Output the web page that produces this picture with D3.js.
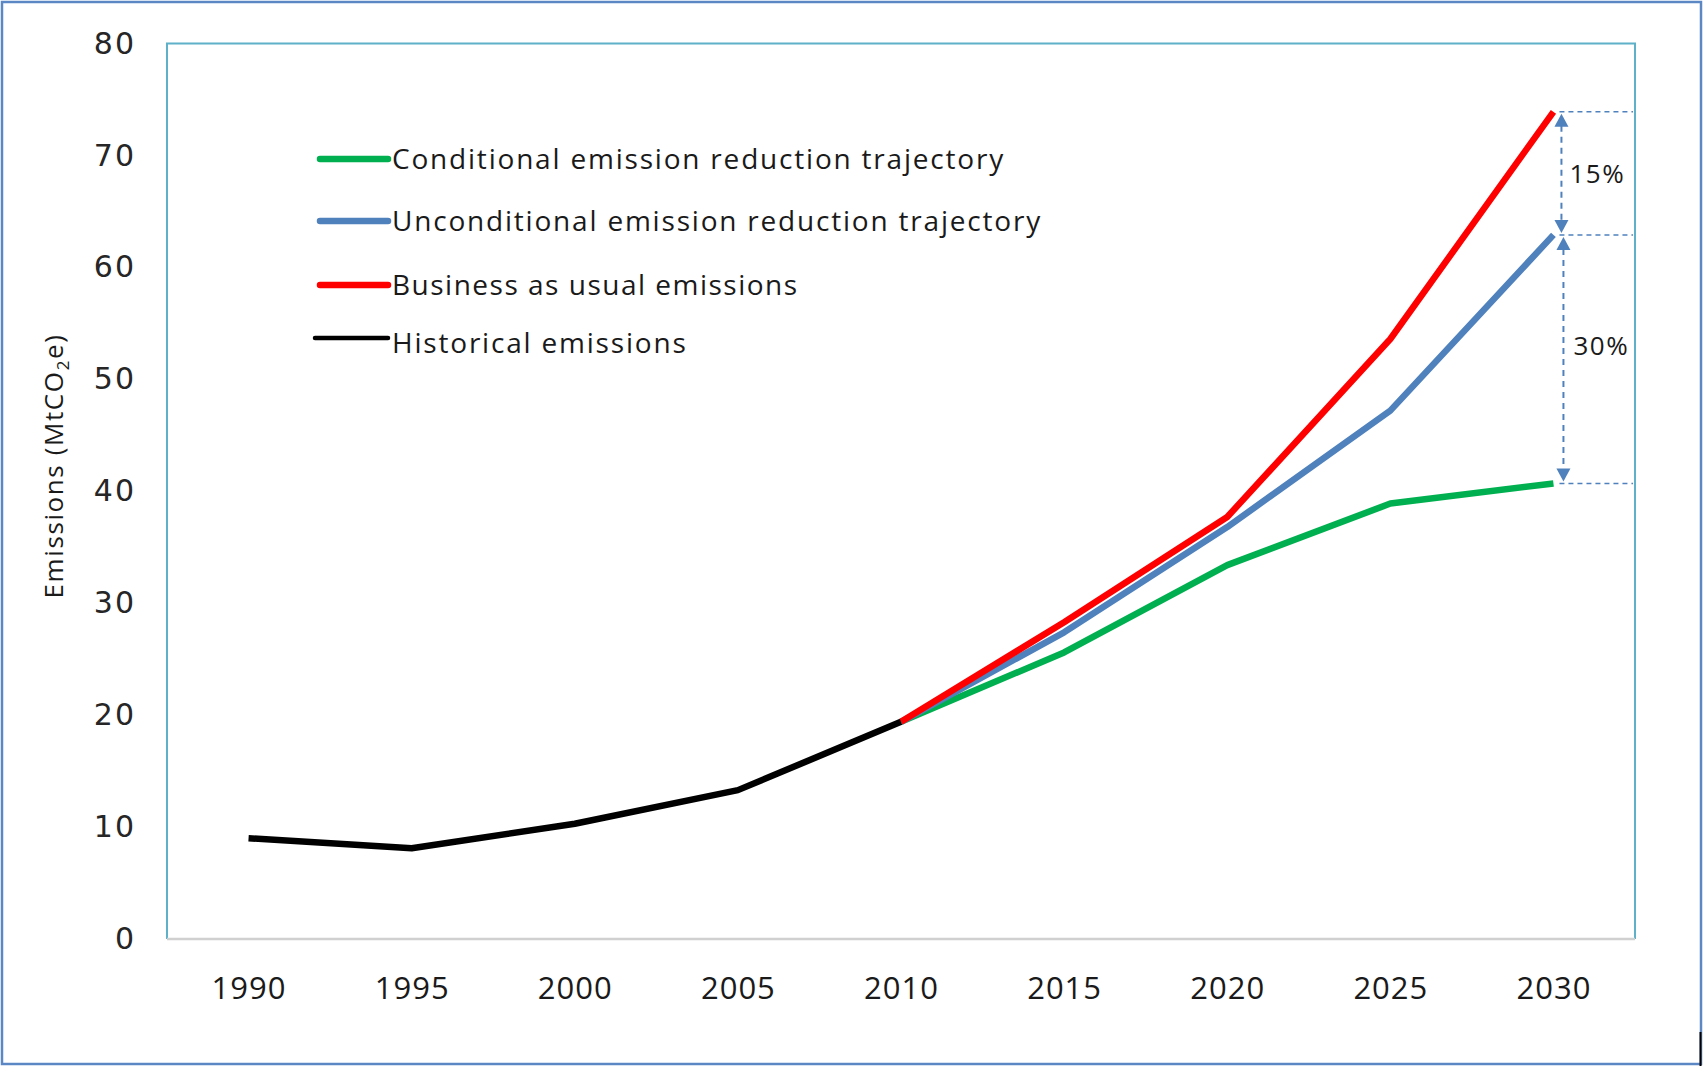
<!DOCTYPE html>
<html><head><meta charset="utf-8">
<script src="https://cdn.jsdelivr.net/npm/d3@7"></script>
<style>html,body{margin:0;padding:0;background:#fff;}svg{display:block;}</style>
</head><body>
<svg id="chart" width="1704" height="1067"></svg>
<script>
const years = ["1990","1995","2000","2005","2010","2015","2020","2025","2030"];
const historical = [9.0, 8.1, 10.3, 13.3, 19.4, null, null, null, null];
const bau = [null, null, null, null, 19.4, 28.3, 37.7, 53.6, 73.9];
const unconditional = [null, null, null, null, 19.4, 27.4, 36.8, 47.2, 62.9];
const conditional = [null, null, null, null, 19.4, 25.6, 33.4, 38.9, 40.7];
const yTicks = [0, 10, 20, 30, 40, 50, 60, 70, 80];
const seriesNames = ["Conditional emission reduction trajectory","Unconditional emission reduction trajectory","Business as usual emissions","Historical emissions"];
const seriesColors = ["#00b050","#4f81bd","#ff0000","#000000"];
const pctLabels = ["15%","30%"];

const svg = d3.select("#chart");
const L = 167, R = 1635, T = 43.5, B = 939;
const x = d3.scalePoint().domain(years).range([L, R]).padding(0.5);
const y = d3.scaleLinear().domain([0, 80]).range([B, T]);

// outer frame
svg.append("rect").attr("x",2).attr("y",2).attr("width",1699).attr("height",1062)
  .attr("fill","none").attr("stroke","#5b87c5").attr("stroke-width",2.5);
svg.append("line").attr("x1",1700.5).attr("x2",1700.5).attr("y1",1032).attr("y2",1066)
  .attr("stroke","#000").attr("stroke-width",2);

// plot area border
svg.append("path").attr("d",`M${L},${B}V${T}H${R}V${B}`).attr("fill","none")
  .attr("stroke","#5fb0c9").attr("stroke-width",2);
svg.append("line").attr("x1",L).attr("x2",R).attr("y1",B).attr("y2",B)
  .attr("stroke","#d0d0d0").attr("stroke-width",2.5);

// y axis
const yAxis = d3.axisLeft(y).tickValues(yTicks).tickSize(0).tickPadding(0);
const gy = svg.append("g").attr("transform",`translate(136,0)`).call(yAxis);
gy.select(".domain").remove();
gy.selectAll("text").attr("font-family","DejaVu Sans").attr("font-size",30)
  .attr("letter-spacing","2px").attr("fill","#262626");

// x axis
const xAxis = d3.axisBottom(x).tickSize(0).tickPadding(0);
const gx = svg.append("g").attr("transform",`translate(0,${B})`).call(xAxis);
gx.select(".domain").remove();
gx.selectAll("text").attr("font-family","Open Sans").attr("font-size",31).attr("letter-spacing","1px")
  .attr("fill","#1a1a1a").attr("dy",null).attr("y",60);

// y label
svg.append("text").attr("transform",`translate(63,466) rotate(-90)`).attr("text-anchor","middle")
  .attr("font-family","Open Sans").attr("font-size",26).attr("letter-spacing","1.6px").attr("fill","#1a1a1a")
  .html('Emissions (MtCO<tspan font-size="17" dy="6">2</tspan><tspan dy="-6">e)</tspan>');

// lines
const line = d3.line().defined(d => d.v != null).x(d => x(d.year)).y(d => y(d.v));
const data = [conditional, unconditional, bau, historical];
data.forEach((arr, i) => {
  svg.append("path").datum(years.map((yr, j) => ({year: yr, v: arr[j]})))
    .attr("d", line).attr("fill","none").attr("stroke", seriesColors[i])
    .attr("stroke-width",6.5).attr("stroke-linejoin","round").attr("stroke-linecap","butt");
});

// legend
const legY = [159, 221, 285, 343];
const legSpacing = [1.8, 1.8, 1.5, 1.8];
seriesNames.forEach((name, i) => {
  const g = svg.append("g");
  const x0 = i === 3 ? 315 : 320;
  const ly = i === 3 ? legY[i] - 5 : legY[i];
  g.append("line").attr("x1",x0).attr("x2",388).attr("y1",ly).attr("y2",ly)
    .attr("stroke",seriesColors[i]).attr("stroke-width", i === 3 ? 4.5 : 6.5).attr("stroke-linecap","round");
  g.append("text").attr("x",392).attr("y",legY[i]+10).attr("font-family","Open Sans")
    .attr("font-size",28).attr("letter-spacing", legSpacing[i] + "px").attr("fill","#1a1a1a").text(name);
});

// annotation
const xe = x("2030");
const yB = y(bau[8]), yU = y(unconditional[8]), yC = y(conditional[8]);
const annColor = "#4f81bd";
[yB, yU, yC].forEach(v => {
  svg.append("line").attr("x1", xe + 6).attr("x2", R - 2).attr("y1", v).attr("y2", v)
    .attr("stroke", annColor).attr("stroke-width",1.5).attr("stroke-dasharray","5,4");
});
function arrow(xa, y1, y2) {
  svg.append("line").attr("x1",xa).attr("x2",xa).attr("y1",y1+14).attr("y2",y2-14)
    .attr("stroke",annColor).attr("stroke-width",2).attr("stroke-dasharray","6,5");
  const h = 13, w = 7;
  svg.append("path").attr("d",`M${xa},${y1+2}L${xa-w},${y1+2+h}L${xa+w},${y1+2+h}Z`).attr("fill",annColor);
  svg.append("path").attr("d",`M${xa},${y2-2}L${xa-w},${y2-2-h}L${xa+w},${y2-2-h}Z`).attr("fill",annColor);
}
arrow(xe + 8, yB, yU);
arrow(xe + 10, yU, yC);
svg.append("text").attr("x", xe + 16).attr("y", (yB + yU)/2 + 10).attr("font-family","Open Sans")
  .attr("font-size",26).attr("letter-spacing","1.5px").attr("fill","#1a1a1a").text(pctLabels[0]);
svg.append("text").attr("x", xe + 20).attr("y", (yU + yC)/2 - 4).attr("font-family","Open Sans")
  .attr("font-size",26).attr("letter-spacing","1.5px").attr("fill","#1a1a1a").text(pctLabels[1]);
</script>
</body></html>
